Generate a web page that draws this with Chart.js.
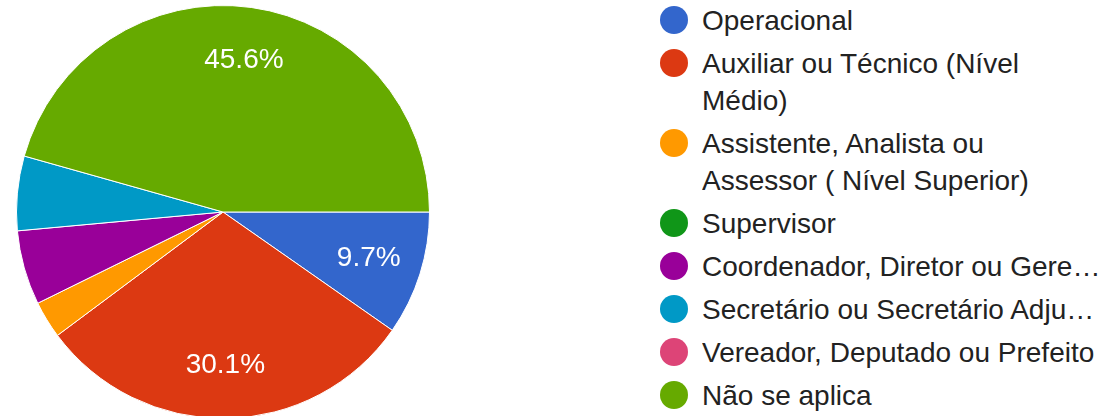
<!DOCTYPE html>
<html>
<head>
<meta charset="utf-8">
<script src="https://cdn.jsdelivr.net/npm/chart.js@4/dist/chart.umd.min.js"></script>
<style>
    html, body {
        margin: 0;
        padding: 0;
        width: 1104px;
        height: 416px;
        overflow: hidden;
        background: #fff;
        font-family: "Liberation Sans", Arial, sans-serif;
    }
    #pie-wrap {
        position: absolute;
        left: 16px;
        top: 5px;
        width: 414px;
        height: 414px;
    }
    #legend {
        position: absolute;
        left: 660px;
        top: 2px;
        margin: 0;
        padding: 0;
        list-style: none;
    }
    #legend li {
        display: flex;
        align-items: flex-start;
        margin-bottom: 6px;
    }
    #legend .dot {
        flex: none;
        width: 28px;
        height: 28px;
        border-radius: 50%;
        margin-top: 4px;
        margin-right: 14px;
    }
    #legend .text {
        width: 401px;
        font-size: 28px;
        line-height: 37px;
        color: #222;
        overflow: hidden;
    }
    #legend .text.single {
        white-space: nowrap;
        text-overflow: ellipsis;
    }
</style>
</head>
<body>
<div id="pie-wrap"><canvas id="pie-chart"></canvas></div>
<ul id="legend"></ul>

<script>
// Answers and number of responses per answer
const categories = [
    'Operacional',
    'Auxiliar ou Técnico (Nível Médio)',
    'Assistente, Analista ou Assessor ( Nível Superior)',
    'Supervisor',
    'Coordenador, Diretor ou Gerente',
    'Secretário ou Secretário Adjunto',
    'Vereador, Deputado ou Prefeito',
    'Não se aplica'
];
const responses = [10, 31, 3, 0, 6, 6, 0, 47];

const sliceColors = ['#3366cc', '#dc3912', '#ff9900', '#109618', '#990099', '#0099c6', '#dd4477', '#66aa00'];
// entries allowed to wrap onto a second line; the rest are cut with an ellipsis
const wrapEntries = [false, true, true, false, false, false, false, false];

const total = responses.reduce((a, b) => a + b, 0);

/**
 * Draws the percentage inside the bigger slices
 */
const sliceLabels = {
    id: 'sliceLabels',
    afterDatasetsDraw(chart) {
        const ctx = chart.ctx;
        const meta = chart.getDatasetMeta(0);
        ctx.save();
        ctx.font = '28px "Liberation Sans", Arial, sans-serif';
        ctx.fillStyle = '#fff';
        ctx.textAlign = 'center';
        ctx.textBaseline = 'middle';
        meta.data.forEach((arc, i) => {
            const pct = responses[i] / total * 100;
            if (pct < 9) return;
            const mid = (arc.startAngle + arc.endAngle) / 2;
            const r = arc.outerRadius * 0.74;
            ctx.fillText(pct.toFixed(1) + '%', arc.x + Math.cos(mid) * r, arc.y + Math.sin(mid) * r);
        });
        ctx.restore();
    }
};

new Chart(document.getElementById('pie-chart'), {
    type: 'pie',
    data: {
        labels: categories,
        datasets: [{
            data: responses,
            backgroundColor: sliceColors,
            borderColor: '#fff',
            borderWidth: 1
        }]
    },
    options: {
        responsive: true,
        maintainAspectRatio: false,
        animation: false,
        rotation: 90,
        layout: { padding: 0 },
        plugins: {
            legend: { display: false },
            tooltip: { enabled: false }
        }
    },
    plugins: [sliceLabels]
});

// Legend on the right
const legend = document.getElementById('legend');
categories.forEach((name, i) => {
    const li = document.createElement('li');
    const dot = document.createElement('span');
    dot.className = 'dot';
    dot.style.background = sliceColors[i];
    const text = document.createElement('span');
    text.className = wrapEntries[i] ? 'text' : 'text single';
    text.textContent = name;
    li.appendChild(dot);
    li.appendChild(text);
    legend.appendChild(li);
});
</script>
</body>
</html>
